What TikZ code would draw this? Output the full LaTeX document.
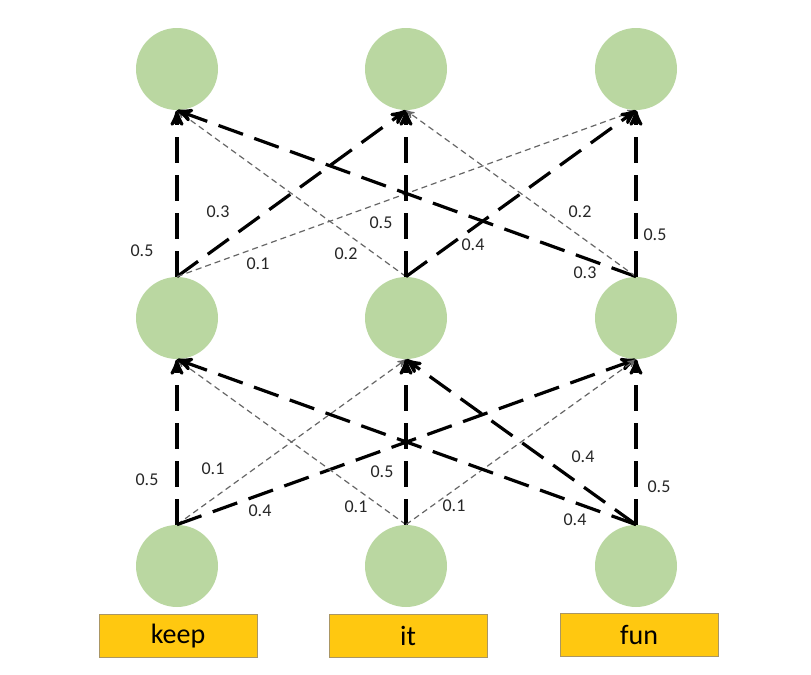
\documentclass[tikz,border=0pt]{standalone}
\usepackage{fontspec}
\setmainfont{Carlito}
\usepackage{tikz}
\usetikzlibrary{shapes}
\usetikzlibrary{arrows}
\definecolor{nodegreen}{RGB}{186,215,161}
\definecolor{wordgold}{RGB}{255,200,16}
\definecolor{wordline}{RGB}{170,150,100}
\tikzset{
  main node/.style={circle,fill=nodegreen,minimum size=41pt,inner sep=0pt},
  word node/.style={rectangle,draw=wordline,line width=0.5pt,fill=wordgold,minimum width=79pt,minimum height=21.5pt,font=\fontsize{14}{14}\selectfont},
  strong/.style={line width=1.6pt,dash pattern=on 13pt off 6pt},
  weak/.style={line width=0.6pt,draw=black!60,dash pattern=on 3pt off 2pt},
  weight/.style={font=\fontsize{9}{9}\selectfont,text=black!85,inner sep=0pt}
}
\begin{document}
\begin{tikzpicture}[->,>=stealth',x=0.5pt,y=-0.5pt]
    \useasboundingbox (0,0) rectangle (811,675);

    % layers
    \node[main node] (t1) at (177,69) {};
    \node[main node] (t2) at (406,69) {};
    \node[main node] (t3) at (636,69) {};
    \node[main node] (m1) at (177,318) {};
    \node[main node] (m2) at (406,318) {};
    \node[main node] (m3) at (636,318) {};
    \node[main node] (b1) at (177,566) {};
    \node[main node] (b2) at (406,566) {};
    \node[main node] (b3) at (636,566) {};

    % words
    \node[word node] (keep) at (178,636) {keep};
    \node[word node] (it) at (408,636) {it};
    \node[word node] (fun) at (639,635) {fun};

    % upper weights
    \path
      (m1.north) edge[strong] (t1.south)
                 edge[strong] (t2.south)
                 edge[weak] (t3.south)
      (m2.north) edge[weak] (t1.south)
                 edge[strong] (t2.south)
                 edge[strong] (t3.south)
      (m3.north) edge[strong] (t1.south)
                 edge[weak] (t2.south)
                 edge[strong] (t3.south);

    % lower weights
    \path
      (b1.north) edge[strong] (m1.south)
                 edge[weak] (m2.south)
                 edge[strong] (m3.south)
      (b2.north) edge[weak] (m1.south)
                 edge[strong] (m2.south)
                 edge[weak] (m3.south)
      (b3.north) edge[strong] (m1.south)
                 edge[strong] (m2.south)
                 edge[strong] (m3.south);

    \node[weight] (u11) at (142,251) {0.5};
    \node[weight] (u12) at (218,212) {0.3};
    \node[weight] (u13) at (258,264) {0.1};
    \node[weight] (u21) at (346,254) {0.2};
    \node[weight] (u22) at (381,223) {0.5};
    \node[weight] (u23) at (473,245) {0.4};
    \node[weight] (u31) at (585,273) {0.3};
    \node[weight] (u32) at (580,212) {0.2};
    \node[weight] (u33) at (655,235) {0.5};

    \node[weight] (l11) at (147,480) {0.5};
    \node[weight] (l12) at (213,469) {0.1};
    \node[weight] (l13) at (260,511) {0.4};
    \node[weight] (l21) at (356,507) {0.1};
    \node[weight] (l22) at (382,472) {0.5};
    \node[weight] (l23) at (454,506) {0.1};
    \node[weight] (l31) at (575,520) {0.4};
    \node[weight] (l32) at (583,457) {0.4};
    \node[weight] (l33) at (659,487) {0.5};
\end{tikzpicture}
\end{document}
